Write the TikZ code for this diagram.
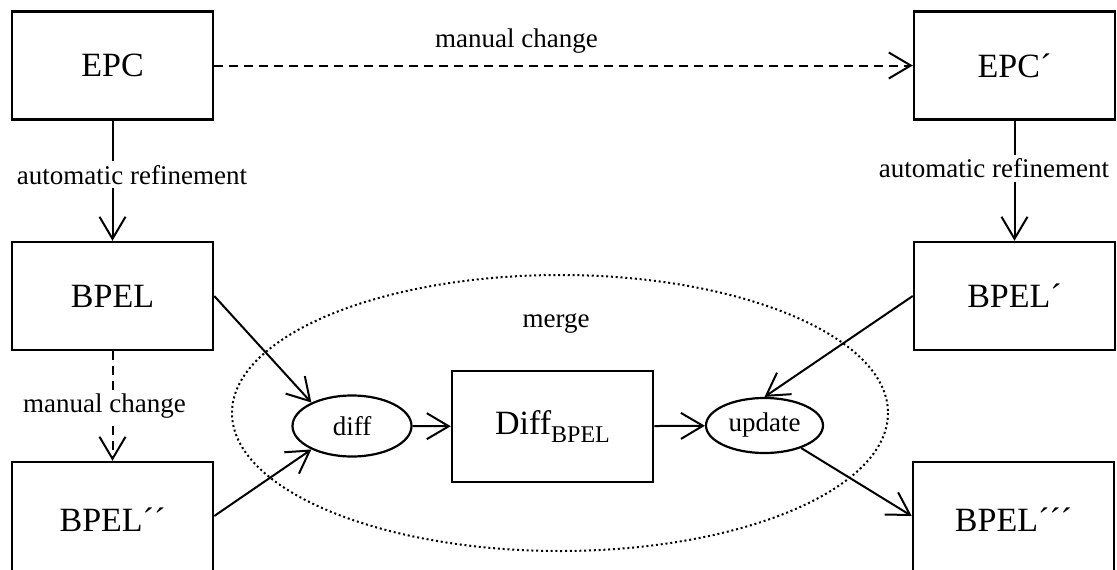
\documentclass[tikz,border=0pt]{standalone}
\usepackage{fontspec}
\setmainfont{Liberation Serif}
\usetikzlibrary{arrows.meta,positioning,shapes.geometric}

\tikzset{
  box/.style={draw, line width=2.5pt, minimum width=201pt, minimum height=108pt,
    inner sep=0pt, font=\fontsize{34}{40}\selectfont},
  op/.style={draw, ellipse, line width=2.2pt, inner sep=0pt,
    font=\fontsize{27}{32}\selectfont},
  lbl/.style={font=\fontsize{27}{32}\selectfont, fill=white, inner sep=4pt},
  flow/.style={line width=2pt, -{Straight Barb[length=22pt,width=26pt,line width=2pt]}},
  change/.style={flow, dash pattern=on 9pt off 6pt}
}

\begin{document}
\begin{tikzpicture}[x=1pt,y=-1pt]
  \useasboundingbox (0,0) rectangle (1117,570);

  % merge area
  \draw[line width=2pt, dash pattern=on 2pt off 2.8pt] (560,413) ellipse [x radius=328, y radius=138];
  \node[font=\fontsize{27}{32}\selectfont] (mergelbl) at (556,323) {merge};

  % models
  \node[box] (epc)   at (112.5,65.5) {EPC};
  \node[box] (epcb)  at (1014.5,65.5) {EPC´};
  \node[box] (bpel)  at (112.5,296) {BPEL};
  \node[box] (bpelb) at (1014.5,296) {BPEL´};
  \node[box, minimum height=116pt] (bpelc) at (112.5,520) {BPEL´´};
  \node[box, minimum height=116pt] (bpeld) at (1013.5,520) {BPEL´´´};

  % merge steps
  \node[op, minimum width=119pt, minimum height=61pt] (diff) at (352,426) {diff};
  \node[box, minimum height=111pt] (delta) at (552.5,426.5)
    {Diff\raisebox{-8pt}{\fontsize{24}{28}\selectfont BPEL}};
  \node[op, minimum width=117pt, minimum height=55pt] (update) at (764.5,425.5) {update};

  % refinement and changes
  \draw[change] (epc) -- (epcb)
    node[lbl, midway, fill=none, xshift=-47pt, yshift=24pt] {manual change};
  \draw[flow] (epc) -- (bpel)
    node[lbl, midway, xshift=19.5pt, yshift=6pt] {automatic refinement};
  \draw[flow] (epcb) -- (bpelb)
    node[lbl, midway, xshift=-20.5pt, yshift=12.5pt] {automatic refinement};
  \draw[change] (bpel) -- (bpelc)
    node[lbl, midway, xshift=-8pt] {manual change};

  % merge flow
  \draw[flow] (bpel.east) -- (diff.150);
  \draw[flow] ([yshift=4pt]bpelc.east) -- (diff.210);
  \draw[flow] (diff) -- (delta);
  \draw[flow] (delta) -- (update);
  \draw[flow] (bpelb.west) -- (update.north);
  \draw[flow] (update) -- ([yshift=4pt]bpeld.west);

\end{tikzpicture}
\end{document}
